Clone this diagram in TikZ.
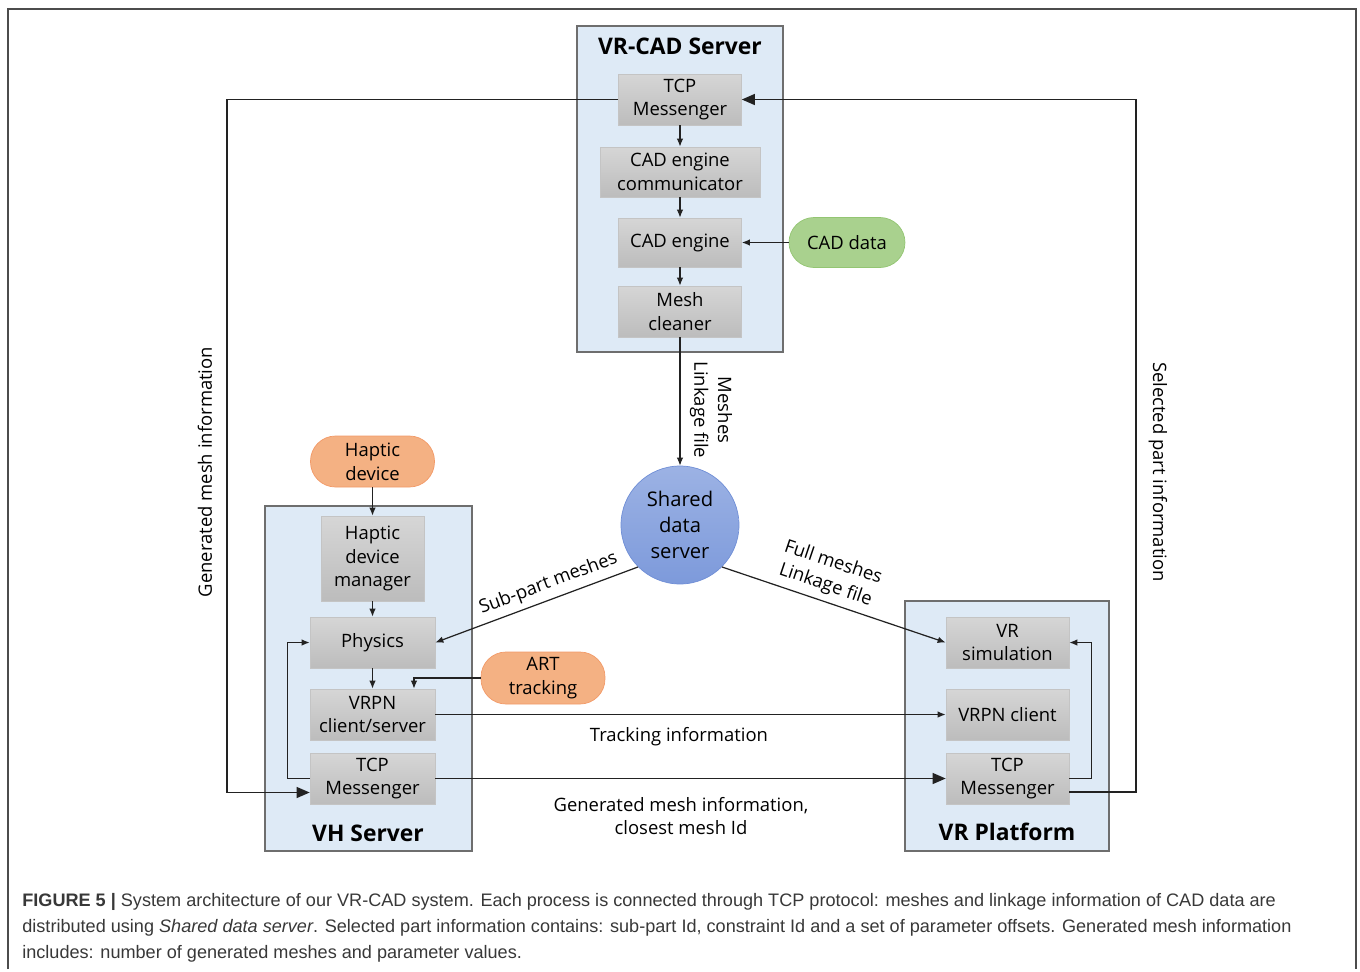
\documentclass[tikz,border=0pt]{standalone}
\usepackage{fontspec}
\setmainfont{Open Sans}
\newfontfamily\capfont{Liberation Sans}
\usetikzlibrary{positioning,arrows.meta}

\definecolor{panelblue}{HTML}{DEEAF6}
\definecolor{panelline}{HTML}{6E6E6E}
\definecolor{boxtop}{HTML}{D6D6D6}
\definecolor{boxbot}{HTML}{BCBCBC}
\definecolor{boxline}{HTML}{C4C4C4}
\definecolor{greenfill}{HTML}{A9D18E}
\definecolor{greenline}{HTML}{93C572}
\definecolor{orangefill}{HTML}{F4B183}
\definecolor{orangeline}{HTML}{F29A68}
\definecolor{circtop}{HTML}{9CB2E4}
\definecolor{circbot}{HTML}{7D9ADB}
\definecolor{circline}{HTML}{6F8ED6}
\definecolor{inkline}{HTML}{222222}
\definecolor{capgray}{HTML}{383838}

\begin{document}
\begin{tikzpicture}[x=0.02cm, y=-0.02cm,
    every node/.style={font=\fontsize{10.5}{13.5}\selectfont},
    proc/.style={draw=boxline, top color=boxtop, bottom color=boxbot,
      minimum width=2.46cm, minimum height=1.02cm, inner sep=1pt, align=center},
    pill/.style={rounded corners=0.5cm, minimum width=2.48cm,
      minimum height=1.02cm, inner sep=1pt, align=center},
    paneltitle/.style={font=\fontsize{13}{15}\selectfont\bfseries},
    sarr/.style={draw=inkline, line width=0.7pt, -{Latex[length=1.6mm,width=1.3mm]}},
    barr/.style={draw=inkline, line width=0.7pt, -{Triangle[length=2.6mm,width=2.2mm]}}
  ]
  \useasboundingbox (0,0) rectangle (1360,971);
  % frame and panels
  \draw[gray!60!black, line width=0.8pt] (8,969) -- (8,9) -- (1356,9) -- (1356,969);
  \draw[panelline, fill=panelblue, line width=0.6pt] (577,26) rectangle (783,352);
  \draw[panelline, fill=panelblue, line width=0.6pt] (265,506) rectangle (472,851);
  \draw[panelline, fill=panelblue, line width=0.6pt] (905,601) rectangle (1109,851);
  \node[paneltitle] (cadtitle) at (680,46) {VR-CAD Server};
  \node[paneltitle] (vhtitle) at (368,833) {VH Server};
  \node[paneltitle] (vrtitle) at (1007,832) {VR Platform};

  % VR-CAD server
  \node[proc] (tcpcad) at (680,99.5) {TCP\\Messenger};
  \node[proc, minimum width=3.2cm, minimum height=1cm] (cadcomm) at (680,172) {CAD engine\\communicator};
  \node[proc, minimum height=0.98cm] (cadeng) at (680,242.5) {CAD engine};
  \node[proc] (cleaner) at (680,311.5) {Mesh\\cleaner};
  \node[pill, fill=greenfill, draw=greenline, minimum width=2.32cm, minimum height=1cm] (caddata) at (847,242.5) {CAD data};
  \node[circle, draw=circline, top color=circtop, bottom color=circbot, minimum size=2.36cm,
    inner sep=0pt, align=center, font=\fontsize{11.5}{15}\selectfont] (shared) at (680,525) {Shared\\data\\server};

  % VH server
  \node[pill, fill=orangefill, draw=orangeline] (haptic) at (372.5,461.5) {Haptic\\device};
  \node[proc, minimum width=2.06cm, minimum height=1.7cm] (hapman) at (372.5,558.5) {Haptic\\device\\manager};
  \node[proc, minimum width=2.5cm] (physics) at (372.5,642.5) {Physics};
  \node[proc, minimum width=2.5cm] (vrpncs) at (372.5,714.5) {VRPN\\client/server};
  \node[proc, minimum width=2.5cm] (tcpvh) at (372.5,778.5) {TCP\\Messenger};
  \node[pill, fill=orangefill, draw=orangeline, minimum height=1.04cm] (art) at (543,678) {ART\\tracking};

  % VR platform
  \node[proc] (vrsim) at (1007.5,642.5) {VR\\simulation};
  \node[proc] (vrpncl) at (1007.5,714.5) {VRPN client};
  \node[proc] (tcpvr) at (1007.5,778.5) {TCP\\Messenger};

  \coordinate (leftrail) at (227,440);
  \coordinate (rightrail) at (1136,440);

  % connectors
  \draw[sarr] (tcpcad) -- (cadcomm);
  \draw[sarr] (cadcomm) -- (cadeng);
  \draw[sarr] (cadeng) -- (cleaner);
  \draw[sarr] (caddata) -- (cadeng);
  \draw[sarr] (cleaner) -- (shared);
  \node[rotate=-90, align=center] (meshlbl) at (711,410) {Meshes\\Linkage file};
  \draw[sarr] (shared.225) -- node[sloped, above, pos=0.415] (sublbl) {Sub-part meshes} (physics.east);
  \draw[sarr] (shared.-45) -- node[sloped, above, pos=0.44, align=center] (fulllbl) {Full meshes\\Linkage file} (vrsim.west);

  \draw[sarr] (haptic) -- (hapman);
  \draw[sarr] (hapman) -- (physics);
  \draw[sarr] (physics) -- (vrpncs);
  \draw[sarr] (art.west) -| ([xshift=0.83cm]vrpncs.north);
  \draw[sarr] (tcpvh.west) -- ++(-22,0) |- (physics.west);
  \draw[barr] (tcpcad.west) -| (leftrail) |- ([yshift=-0.28cm]tcpvh.west);
  \node[rotate=90] (genlbl) at (205,472) {Generated mesh information};

  \draw[sarr] (vrpncs.east) -- (vrpncl.west);
  \node (trklbl) at (679,737) {Tracking information};
  \draw[barr] (tcpvh.east) -- (tcpvr.west);
  \node[align=center] (genmlbl) at (681,816) {Generated mesh information,\\closest mesh Id};

  \draw[sarr] (tcpvr.east) -- ++(22,0) |- (vrsim.east);
  \draw[barr] ([yshift=-0.27cm]tcpvr.east) -| (rightrail) |- (tcpcad.east);
  \node[rotate=-90] (sellbl) at (1158,472) {Selected part information};

  % caption
  \node[anchor=west, align=left, inner sep=0pt, text=capgray,
    font=\capfont\fontsize{10.3}{14.8}\selectfont] (caption) at (22,927.5)
    {\textbf{FIGURE 5 |} System architecture of our VR-CAD system. Each process is connected through TCP protocol: meshes and linkage information of CAD data are\\
     distributed using \textit{Shared data server}. Selected part information contains: sub-part Id, constraint Id and a set of parameter offsets. Generated mesh information\\
     includes: number of generated meshes and parameter values.};
\end{tikzpicture}
\end{document}
